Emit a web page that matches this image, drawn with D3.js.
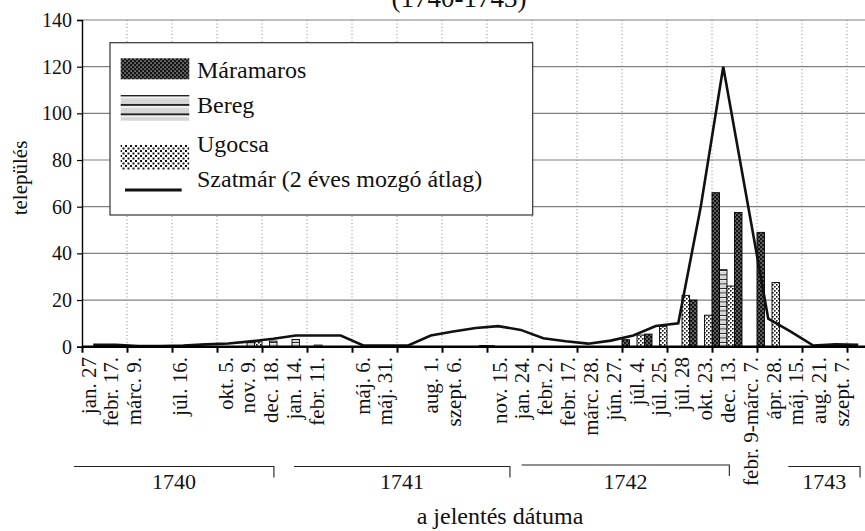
<!DOCTYPE html>
<html>
<head>
<meta charset="utf-8">
<script src="https://cdn.jsdelivr.net/npm/d3@7"></script>
<style>
  body{margin:0;background:#fff}
  svg{display:block}
  svg text{font-family:"Liberation Serif","Times New Roman","DejaVu Serif",serif;fill:#111}
</style>
</head>
<body>
<svg id="chart" width="865" height="531"></svg>
<script>
// report dates, "" where the category has no printed label
const categories=["jan. 27","febr. 17.","márc. 9.","","júl. 16.","","okt. 5.","nov. 9.","dec. 18.",
  "jan. 14.","febr. 11.","","máj. 6.","máj. 31.","","aug. 1.","szept. 6.","","nov. 15.",
  "jan. 24.","febr. 2.","febr. 17.","márc. 28.","jún. 27.","júl. 4.","júl. 25.","júl. 28","okt. 23.","dec. 13.",
  "febr. 9-márc. 7.","ápr. 28.","máj. 15.","aug. 21.","szept. 7.",""]
const maramaros=[0,0,0,0,0,0,0,0,0, 0,0,0,0,0,0,0,0,0,0.4, 0,0,0,0,0,3,5.4,0,20,66, 57.5,49,0,0,0,0]
const bereg=[0,0,0,0,0,0,0,1.7,2.4, 3.1,0.7,0,0,0,0,0,0,0,0, 0,0,0,0,0,0,0,0,0,33, 0,0,0,0,0,0]
const ugocsa=[0,0,0,0,0,0,0,2.1,0, 0,0,0,0,0,0,0,0,0.5,0, 0,0,0,0,0,5,8.6,22,13.5,26, 0,27.5,0,0,0,0]
const szatmar=[0.8,0.8,0.3,0.3,0.5,1,1.4,2.3,3.4, 4.8,4.8,4.8,0.5,0.5,0.5,4.8,6.5,8,8.8, 7.2,3.6,2.3,1.3,2.6,4.8,8.9,10,60,120, 66,12,6.5,0.5,1,0.8]
const yTicks=[0,20,40,60,80,100,120,140]
const years=["1740","1741","1742","1743"]
const seriesNames=["Máramaros","Bereg","Ugocsa","Szatmár (2 éves mozgó átlag)"]

const svg=d3.select("#chart")
const N=categories.length
const mLeft=82, mTop=20, mBase=346.7, mRight=mLeft+N*22.5
const serif='"Liberation Serif","Times New Roman","DejaVu Serif",serif'

const x=d3.scaleBand().domain(d3.range(N)).range([mLeft,mRight]).padding(0)
const xs=d3.scaleBand().domain([0,1,2]).range([0,x.bandwidth()])
const catX=d3.scaleLinear().domain([0,N]).range([mLeft,mRight]) // category boundaries
const y=d3.scaleLinear().domain([0,140]).range([mBase,mTop])

// fill patterns
const defs=svg.append("defs")
function pat(id,w,h,sc){
  return defs.append("pattern").attr("id",id).attr("patternUnits","userSpaceOnUse")
    .attr("width",w).attr("height",h).attr("patternTransform",sc?`scale(${sc})`:null)
}
function rects(p,list,fill){ list.forEach(r=>p.append("rect").attr("x",r[0]).attr("y",r[1]).attr("width",r[2]).attr("height",r[3]).attr("fill",fill)) }
;[["pM",1],["pMl",1]].forEach(([id,s])=>{
  const p=pat(id,4,4,s); rects(p,[[0,0,4,4]],"#151515"); rects(p,[[0.5,0.5,1.1,1.1],[2.5,2.5,1.1,1.1]],"#fff")
})
;[["pB",1],["pBl",2.1]].forEach(([id,s])=>{
  const p=pat(id,4,4.5,s); rects(p,[[0,0,4,4.5]],"#d6d6d6"); rects(p,[[0,0,4,1.0]],"#222"); rects(p,[[0,1.0,4,0.7]],"#fff")
})
;[["pU",1],["pUl",1.25]].forEach(([id,s])=>{
  const p=pat(id,4,4,s); rects(p,[[0,0,4,4]],"#fff"); rects(p,[[0,0,1.6,1.6],[2,2,1.6,1.6]],"#111")
})

// title (cut off at top, as in the original)
svg.append("text").attr("x",459).attr("y",7).attr("text-anchor","middle").attr("font-size",27).text("(1740-1743)")

// horizontal grid
svg.append("g").selectAll("line").data(yTicks.filter(d=>d>0)).join("line")
  .attr("x1",mLeft).attr("x2",865).attr("y1",d=>y(d)).attr("y2",d=>y(d))
  .attr("stroke","#808080").attr("stroke-width",1.2)

// vertical dotted grid every 2 categories
const tickCats=d3.range(0,N+1,2).filter(d=>catX(d)<865)
svg.append("g").selectAll("line").data(tickCats.slice(1)).join("line")
  .attr("x1",d=>catX(d)).attr("x2",d=>catX(d)).attr("y1",mTop).attr("y2",mBase)
  .attr("stroke","#8a8a8a").attr("stroke-width",1).attr("stroke-dasharray","1,2.5")

// bars
const series=[[maramaros,"url(#pM)"],[bereg,"url(#pB)"],[ugocsa,"url(#pU)"]]
series.forEach(([vals,fill],s)=>{
  svg.append("g").selectAll("rect").data(vals.map((v,i)=>({i,v})).filter(d=>d.v>0)).join("rect")
    .attr("x",d=>x(d.i)+xs(s)).attr("width",xs.bandwidth())
    .attr("y",d=>y(d.v)).attr("height",d=>mBase-y(d.v))
    .attr("fill",fill).attr("stroke","#000").attr("stroke-width",0.9)
})

// Szatmár moving average line
const line=d3.line().x((d,i)=>x(i)+x.bandwidth()/2).y(d=>y(d))
svg.append("path").attr("d",line(szatmar)).attr("fill","none")
  .attr("stroke","#111").attr("stroke-width",2.6).attr("stroke-linejoin","miter")

// y axis
const ya=svg.append("g").attr("transform",`translate(${mLeft},0)`)
  .call(d3.axisLeft(y).tickValues(yTicks).tickSize(5).tickPadding(5))
ya.attr("font-family",null)
ya.select(".domain").attr("stroke","#000").attr("stroke-width",1.4)
ya.selectAll(".tick line").attr("stroke","#000").attr("stroke-width",1.2)
ya.selectAll(".tick text").attr("font-size",20).attr("fill","#111")

// x axis baseline + ticks
const xa=svg.append("g").attr("transform",`translate(0,${mBase})`)
  .call(d3.axisBottom(catX).tickValues(tickCats).tickSize(6).tickFormat(""))
xa.select(".domain").attr("d",`M${mLeft},0H865`).attr("stroke","#000").attr("stroke-width",2.4)
xa.selectAll(".tick line").attr("stroke","#000").attr("stroke-width",2)

// rotated date labels
svg.append("g").selectAll("text").data(categories).join("text")
  .attr("transform",(d,i)=>`translate(${x(i)+x.bandwidth()/2-5+11*i/33},357) rotate(-90)`)
  .attr("text-anchor","end").attr("dy","0.35em").attr("font-size",21).text(d=>d)

// year brackets
const spans=[[-0.36,8.53,466.5],[9.42,19.02,466.5],[19.54,28.77,465],[31.39,34.58,466.5]]
const yg=svg.append("g")
years.forEach((yr,k)=>{
  const [a,b,yy]=spans[k]
  yg.append("path").attr("d",`M${catX(a)},${yy}H${catX(b)}V${yy+11}`)
    .attr("fill","none").attr("stroke","#222").attr("stroke-width",1.1)
  yg.append("text").attr("x",(catX(a)+catX(b))/2).attr("y",489).attr("text-anchor","middle")
    .attr("font-size",22).text(yr)
})

// axis titles
svg.append("text").attr("x",500).attr("y",524).attr("text-anchor","middle").attr("font-size",24).text("a jelentés dátuma")
svg.append("text").attr("transform","translate(20,178) rotate(-90)").attr("dy","0.35em")
  .attr("text-anchor","middle").attr("font-size",21).text("település")

// legend
const lg=svg.append("g")
lg.append("rect").attr("x",110).attr("y",42.7).attr("width",422.7).attr("height",172.3)
  .attr("fill","#fff").attr("stroke","#333").attr("stroke-width",1.2)
const sw=[["url(#pMl)",58.3,21],["url(#pBl)",95,25.7],["url(#pUl)",145,25]]
sw.forEach(([f,yy,h])=>{
  lg.append("rect").attr("x",120.7).attr("y",yy).attr("width",68.6).attr("height",h).attr("fill",f)
})
lg.append("line").attr("x1",125).attr("x2",181.7).attr("y1",190).attr("y2",190)
  .attr("stroke","#111").attr("stroke-width",3)
const baselines=[78,113.3,151.7,186.7]
lg.selectAll("text.lt").data(seriesNames).join("text").attr("class","lt")
  .attr("x",197).attr("y",(d,i)=>baselines[i]).attr("font-size",24).text(d=>d)

svg.selectAll("text").attr("font-family",serif)
</script>
</body>
</html>
